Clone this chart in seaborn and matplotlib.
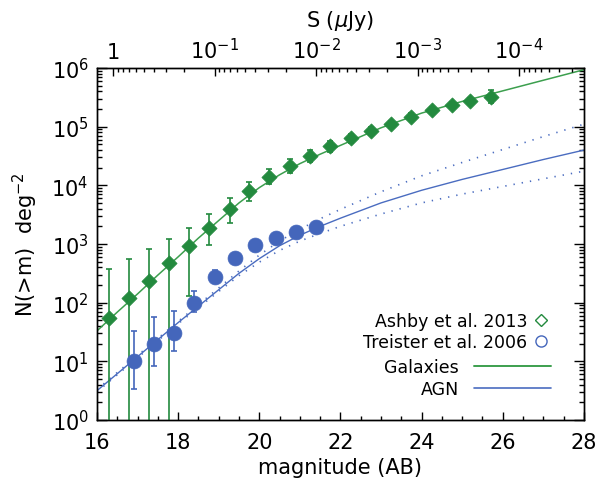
import numpy as np
import pandas as pd
import matplotlib
matplotlib.use("Agg")
import matplotlib.pyplot as plt
from matplotlib.ticker import LogLocator, FixedLocator, MultipleLocator, NullFormatter
from matplotlib.lines import Line2D
import seaborn as sns

# ---- number counts: Ashby et al. 2013 (galaxies) ----
ashby_mag = [16.3, 16.8, 17.27, 17.77, 18.27, 18.77, 19.27, 19.75, 20.25, 20.75,
             21.25, 21.75, 22.25, 22.75, 23.25, 23.75, 24.25, 24.75, 25.2, 25.7]
ashby_n = [55, 120, 237, 470, 910, 1870, 3900, 7900, 14000, 21400,
           31800, 46000, 64000, 85000, 110000, 147000, 191000, 233000, 275000, 322000]
ashby_lo = [0, 0, 0, 0, 128, 955, 2270, 5320, 10500, 16100,
            25100, 37000, 53000, 73000, 95000, 128000, 168000, 207000, 245000, 257000]
ashby_hi = [373, 550, 820, 1210, 1870, 3230, 5980, 11200, 18900, 27900,
            40300, 57000, 76000, 99000, 126000, 168000, 216000, 262000, 308000, 427000]

# ---- number counts: Treister et al. 2006 (AGN) ----
treister_mag = [16.9, 17.4, 17.9, 18.4, 18.9, 19.4, 19.9, 20.4, 20.9, 21.4]
treister_n = [10, 20, 30, 100, 270, 580, 970, 1260, 1630, 1960]
treister_lo = [3.4, 8.4, 15, 70, 250, 580, 970, 1260, 1630, 1960]
treister_hi = [33, 56, 71, 160, 360, 580, 970, 1260, 1630, 1960]

# ---- model curves ----
gal_mag = [16, 16.5, 17, 17.5, 18, 18.5, 19, 19.5, 20, 20.5, 21, 21.5, 22,
           23, 24, 25, 26, 27, 28]
gal_n = [33, 69, 141, 295, 603, 1260, 2510, 5010, 9120, 15100, 23400, 33900, 47900,
         95500, 170000, 269000, 407000, 617000, 933000]

agn_mag = [16, 17, 18, 19, 19.5, 20, 20.5, 21, 21.5, 22, 23, 24, 25, 26, 27, 28]
agn_n = [3.16, 12.0, 45.7, 166, 316, 562, 933, 1410, 2000, 2750,
         5010, 8220, 12600, 18600, 27500, 39800]
agn_n_hi = [3.31, 12.6, 47.9, 178, 347, 646, 1120, 1780, 2690, 3890,
            7760, 14500, 24500, 40700, 67600, 110000]
agn_n_lo = [3.02, 11.5, 43.7, 155, 288, 490, 776, 1120, 1510, 2000,
            3240, 5010, 7080, 9550, 12900, 17400]

# flux axis (top): S = 1 corresponds to m = 16.4
ab_zero = 16.4
flux_ticks = [1, 1e-1, 1e-2, 1e-3, 1e-4]
flux_labels = ["1", "$10^{-1}$", "$10^{-2}$", "$10^{-3}$", "$10^{-4}$"]

GREEN = "#238a3e"
GREEN_LINE = "#3c9f4e"
BLUE = "#4466bb"
BLUE_LINE = "#4a6cc0"

sns.set_style("ticks")
plt.rcParams["font.family"] = ["DejaVu Sans"]
plt.rcParams.update({
    "text.color": "black",
    "axes.labelcolor": "black",
    "axes.edgecolor": "black",
    "xtick.color": "black",
    "ytick.color": "black",
    "axes.linewidth": 1.0,
})

fig = plt.figure(figsize=(6.12, 4.85), dpi=100)
ax = fig.add_axes([0.1585, 0.132, 0.7955, 0.7258])
ax.set_yscale("log")

gal_df = pd.DataFrame({"mag": gal_mag, "n": gal_n})
agn_df = pd.DataFrame({"mag": agn_mag, "n": agn_n, "hi": agn_n_hi, "lo": agn_n_lo})

sns.lineplot(data=gal_df, x="mag", y="n", ax=ax, color=GREEN_LINE, lw=1.1,
             estimator=None, sort=False)
sns.lineplot(data=agn_df, x="mag", y="n", ax=ax, color=BLUE_LINE, lw=1.0,
             estimator=None, sort=False)
for col in ["hi", "lo"]:
    sns.lineplot(data=agn_df, x="mag", y=col, ax=ax, color=BLUE_LINE, lw=1.2,
                 ls=(0, (0.8, 4.2)), estimator=None, sort=False)

# error bars
a_n = np.array(ashby_n, float)
ax.errorbar(ashby_mag, a_n, yerr=[a_n - np.array(ashby_lo), np.array(ashby_hi) - a_n],
            fmt="none", ecolor=GREEN, elinewidth=1.2, capsize=2.5, capthick=1.2, zorder=3)
t_n = np.array(treister_n, float)
ax.errorbar(treister_mag, t_n, yerr=[t_n - np.array(treister_lo), np.array(treister_hi) - t_n],
            fmt="none", ecolor=BLUE, elinewidth=1.2, capsize=2.5, capthick=1.2, zorder=3)

# markers
sns.scatterplot(x=ashby_mag, y=ashby_n, ax=ax, marker="D", s=60, color=GREEN,
                edgecolor=GREEN, linewidth=0.5, zorder=4)
sns.scatterplot(x=treister_mag, y=treister_n, ax=ax, marker="o", s=115, color=BLUE,
                edgecolor=BLUE, linewidth=0.5, zorder=4)

ax.set_xlim(16, 28)
ax.set_ylim(1, 1e6)

# tick styling
ax.xaxis.set_major_locator(MultipleLocator(2))
ax.xaxis.set_minor_locator(MultipleLocator(0.5))
ax.yaxis.set_major_locator(LogLocator(base=10, numticks=10))
ax.yaxis.set_minor_locator(LogLocator(base=10, subs=np.arange(2, 10), numticks=20))
ax.yaxis.set_minor_formatter(NullFormatter())
ax.tick_params(axis="x", which="major", direction="in", length=6, width=1.0,
               labelsize=15, pad=9, top=False)
ax.tick_params(axis="x", which="minor", direction="in", length=3, width=1.0, top=False)
ax.tick_params(axis="y", which="major", direction="in", length=7, width=1.0,
               labelsize=15, pad=6, right=True)
ax.tick_params(axis="y", which="minor", direction="in", length=3.5, width=1.0, right=True)
for s in ax.spines.values():
    s.set_color("black")
    s.set_linewidth(1.0)

ax.set_xlabel("magnitude (AB)", fontsize=15, labelpad=3)
ax.set_ylabel("N(>m)  deg$^{-2}$", fontsize=15, labelpad=8)

# top flux axis
ax_top = ax.twiny()
ax_top.set_xlim(ax.get_xlim())
major_pos = [ab_zero - 2.5 * np.log10(f) for f in flux_ticks]
minor_pos = [ab_zero - 2.5 * np.log10(k * 10.0 ** e)
             for e in range(-5, 1) for k in range(2, 10)]
minor_pos = [p for p in minor_pos if 16 <= p <= 28]
ax_top.xaxis.set_major_locator(FixedLocator(major_pos))
ax_top.set_xticklabels(flux_labels)
ax_top.xaxis.set_minor_locator(FixedLocator(minor_pos))
ax_top.tick_params(axis="x", which="major", direction="in", length=6, width=1.0,
                   labelsize=15, pad=4)
ax_top.tick_params(axis="x", which="minor", direction="in", length=3, width=1.0)
ax_top.set_xlabel("S ($\\mu$Jy)", fontsize=15, labelpad=8)
for s in ax_top.spines.values():
    s.set_color("black")
    s.set_linewidth(1.0)

# legends
sym_handles = [
    Line2D([], [], marker="D", ls="none", mfc="none", mec=GREEN, mew=1.0, ms=6.5),
    Line2D([], [], marker="o", ls="none", mfc="none", mec=BLUE, mew=1.0, ms=8),
]
leg1 = ax.legend(sym_handles, ["Ashby et al. 2013", "Treister et al. 2006"],
                 loc="upper right", bbox_to_anchor=(0.948, 0.33), frameon=False,
                 markerfirst=False, fontsize=12.5, handletextpad=0.3,
                 labelspacing=0.12, handlelength=1.0, borderpad=0)
ax.add_artist(leg1)
line_handles = [Line2D([], [], color=GREEN_LINE, lw=1.4),
                Line2D([], [], color=BLUE_LINE, lw=1.2)]
ax.legend(line_handles, ["Galaxies", "AGN"], loc="upper right",
          bbox_to_anchor=(0.95, 0.2), frameon=False, markerfirst=False,
          fontsize=12.5, handletextpad=0.9, labelspacing=0.2, handlelength=4.4,
          borderpad=0)

fig.savefig("out.png", dpi=100)
